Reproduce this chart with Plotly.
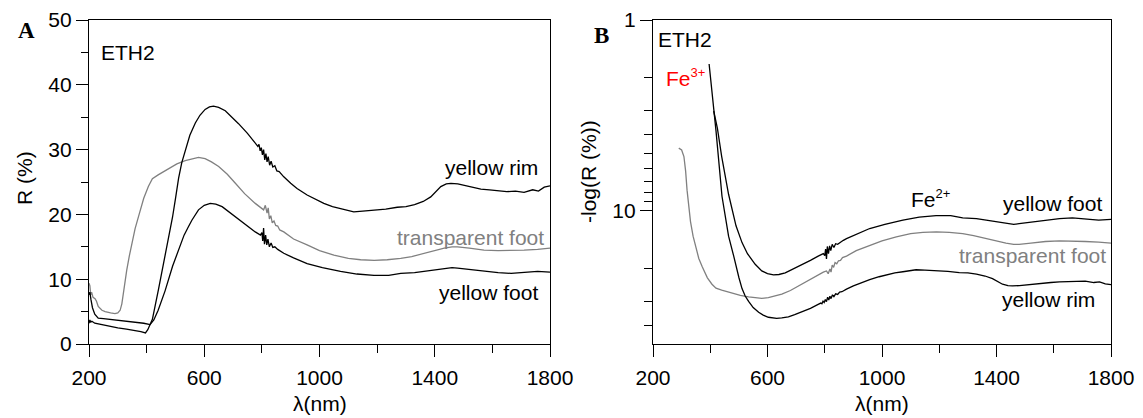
import math
import plotly.graph_objects as go

# Reflectance spectra (R, %) of the three ETH2 zones
rim_nm = [200, 203, 206, 210, 220, 240, 260, 280, 300, 330, 360, 380, 396, 404, 412, 420, 441, 464, 482,
          490, 500, 511, 522, 534, 550, 569, 585, 603, 618, 632, 650, 673, 695, 719, 750, 777, 786, 790,
          794, 798, 802, 806, 810, 814, 818, 822, 827, 832, 838, 845, 852, 860, 868, 876, 900, 922, 957,
          990, 1015, 1045, 1073, 1100, 1119, 1150, 1189, 1230, 1270, 1300, 1330, 1360, 1386, 1405, 1421,
          1440, 1456, 1480, 1502, 1530, 1560, 1590, 1620, 1650, 1680, 1710, 1740, 1760, 1780, 1800]
rim_R = [3.2, 3.7, 3.4, 3.5, 3.2, 3.0, 2.8, 2.7, 2.5, 2.3, 2.1, 1.9, 1.7, 2.2, 3.0, 3.8, 8.4, 13.6, 17.3,
         19.6, 22.4, 25.6, 28.0, 29.9, 32.2, 34.1, 35.3, 36.2, 36.6, 36.7, 36.5, 36.0, 35.1, 34.0, 32.5,
         31.0, 30.5, 30.8, 29.8, 30.3, 29.2, 30.0, 28.4, 29.4, 28.1, 28.9, 27.6, 28.2, 27.3, 27.5, 26.7,
         26.6, 26.1, 25.8, 24.8, 24.0, 23.0, 22.2, 21.7, 21.2, 20.9, 20.6, 20.4, 20.5, 20.6, 20.8, 21.1,
         21.2, 21.5, 22.0, 22.7, 23.5, 24.3, 24.7, 24.8, 24.7, 24.5, 24.2, 23.9, 23.8, 23.6, 23.5, 23.6,
         23.4, 23.8, 23.6, 24.2, 24.4]

foot_nm = [200, 203, 207, 212, 220, 232, 250, 270, 302, 330, 360, 390, 412, 425, 440, 464, 490, 511, 530,
           545, 557, 580, 600, 621, 640, 662, 685, 719, 750, 777, 795, 800, 803, 806, 809, 813, 817, 821,
           826, 832, 838, 845, 855, 865, 876, 910, 957, 1010, 1073, 1130, 1189, 1240, 1282, 1330, 1363,
           1400, 1433, 1460, 1479, 1520, 1571, 1620, 1665, 1710, 1757, 1800]
foot_R = [7.6, 8.0, 6.8, 5.6, 4.6, 4.0, 3.9, 3.8, 3.7, 3.6, 3.4, 3.2, 3.0, 3.7, 5.2, 8.2, 12.0, 14.7, 16.8,
          18.1, 19.1, 20.7, 21.4, 21.7, 21.6, 21.2, 20.4, 19.3, 18.2, 17.3, 16.8, 17.2, 15.9, 17.9, 15.4,
          16.8, 15.3, 16.2, 15.0, 15.6, 14.9, 15.0, 14.6, 14.3, 14.0, 13.3, 12.4, 11.8, 11.2, 10.8, 10.6,
          10.6, 10.9, 11.0, 11.2, 11.5, 11.7, 11.8, 11.7, 11.5, 11.2, 11.0, 10.9, 11.0, 11.2, 11.1]

transp_nm = [200, 203, 206, 209, 214, 221, 226, 232, 245, 256, 275, 290, 300, 308, 314, 319, 325, 331, 340,
             349, 360, 372, 390, 406, 420, 440, 476, 505, 534, 560, 580, 603, 625, 650, 680, 708, 740, 777,
             795, 806, 812, 818, 822, 826, 831, 836, 842, 848, 855, 862, 876, 910, 957, 1000, 1050, 1100,
             1143, 1190, 1235, 1282, 1320, 1363, 1400, 1433, 1460, 1479, 1520, 1571, 1620, 1665, 1710,
             1757, 1800]
transp_R = [9.4, 9.0, 7.6, 8.0, 7.2, 7.0, 6.6, 5.8, 5.2, 5.0, 4.8, 4.7, 4.8, 5.2, 6.2, 7.8, 9.6, 11.4, 13.6,
            15.5, 17.8, 19.7, 22.5, 24.3, 25.5, 26.1, 27.1, 27.8, 28.3, 28.6, 28.8, 28.6, 28.1, 27.4, 26.2,
            24.8, 23.2, 21.7, 21.0, 20.7, 21.4, 20.2, 21.0, 19.3, 19.8, 18.7, 19.0, 18.3, 18.2, 17.6, 17.3,
            16.2, 15.3, 14.4, 13.7, 13.2, 13.0, 12.9, 13.0, 13.2, 13.5, 14.0, 14.4, 14.8, 15.0, 15.0, 14.8,
            14.5, 14.4, 14.4, 14.5, 14.6, 14.8]

# first wavelength of each spectrum shown on the log panel
rim_start_b = 396
foot_start_b = 412
transp_start_b = 290

x_major = [200, 600, 1000, 1400, 1800]
x_minor = [400, 800, 1200, 1600]
ya_major = [0, 10, 20, 30, 40, 50]
ya_minor = [5, 15, 25, 35, 45]
yb_major = [1, 10]
yb_minor = [2, 3, 4, 5, 6, 7, 8, 9, 20, 30, 40]

BLACK = "#000000"
GREY = "#808080"
W, H = 1143, 418
FONT = "Liberation Sans, Arial, sans-serif"
FS = 21


def px(x):
    return x / W


def py(y):
    return 1 - y / H


def trim(nm, r, start):
    pairs = [(a, b) for a, b in zip(nm, r) if a >= start]
    return [p[0] for p in pairs], [p[1] for p in pairs]


fig = go.Figure()

series = [
    (transp_nm, transp_R, GREY, transp_start_b),
    (foot_nm, foot_R, BLACK, foot_start_b),
    (rim_nm, rim_R, BLACK, rim_start_b),
]
for nm, r, color, start in series:
    fig.add_trace(go.Scatter(x=nm, y=r, mode="lines", line=dict(color=color, width=1.3),
                             xaxis="x", yaxis="y", showlegend=False, hoverinfo="skip"))
    bx, by = trim(nm, r, start)
    fig.add_trace(go.Scatter(x=bx, y=by, mode="lines", line=dict(color=color, width=1.3),
                             xaxis="x2", yaxis="y2", showlegend=False, hoverinfo="skip"))

tickfont = dict(family=FONT, size=FS, color=BLACK)
common_x = dict(range=[200, 1800], tickmode="array", tickvals=x_major, ticks="outside", ticklen=12,
                tickwidth=1.3, tickcolor=BLACK, showline=True, linecolor=BLACK, linewidth=1.3,
                mirror=True, showgrid=False, zeroline=False, tickfont=tickfont, automargin=False,
                ticklabelstandoff=3,
                minor=dict(tickmode="array", tickvals=x_minor, ticks="outside", ticklen=8,
                           tickwidth=1.3, tickcolor=BLACK, showgrid=False))
common_y = dict(ticks="outside", ticklen=12, tickwidth=1.3, tickcolor=BLACK, showline=True,
                linecolor=BLACK, linewidth=1.3, mirror=True, showgrid=False, zeroline=False,
                tickfont=tickfont, automargin=False)

ydom = [py(344), py(20)]
fig.update_layout(
    width=W, height=H, margin=dict(l=0, r=0, t=0, b=0),
    paper_bgcolor="white", plot_bgcolor="white",
    xaxis=dict(domain=[px(89), px(550)], anchor="y", **common_x),
    yaxis=dict(domain=ydom, anchor="x", range=[0, 50], tickmode="array", tickvals=ya_major,
               minor=dict(tickmode="array", tickvals=ya_minor, ticks="outside", ticklen=7,
                          tickwidth=1.3, tickcolor=BLACK, showgrid=False),
               **common_y),
    xaxis2=dict(domain=[px(653), px(1111)], anchor="y2", **common_x),
    yaxis2=dict(domain=ydom, anchor="x2", type="log", range=[math.log10(50), 0], tickmode="array",
                tickvals=yb_major, ticktext=[str(v) for v in yb_major],
                minor=dict(tickmode="array", tickvals=yb_minor, ticks="outside", ticklen=8,
                           tickwidth=1.3, tickcolor=BLACK, showgrid=False),
                **common_y),
)

lab = dict(family=FONT, size=FS, color=BLACK)
grey_lab = dict(family=FONT, size=FS, color=GREY)
ann = []


def paper_text(text, x, y, font, angle=0):
    ann.append(dict(text=text, xref="paper", yref="paper", x=px(x), y=py(y), xanchor="center",
                    yanchor="middle", showarrow=False, textangle=angle, font=font))


def data_text(text, axis, x, y, anchor, font):
    ann.append(dict(text=text, xref="x" + axis, yref="y" + axis, x=x, y=y, xanchor=anchor,
                    yanchor="middle", showarrow=False, font=font))


# panel letters
letter_font = dict(family="Liberation Serif", size=23, color=BLACK)
paper_text("<b>A</b>", 26, 30, letter_font)
paper_text("<b>B</b>", 601, 35, letter_font)
# axis titles
paper_text("λ(nm)", 319.5, 403, lab)
paper_text("λ(nm)", 882, 403, lab)
paper_text("R (%)", 24, 178, lab, -90)
paper_text("-log(R (%))", 589, 172, lab, -90)

sup = "<sup><span style='font-size:13px'>{}</span></sup>"

# panel A labels
data_text("ETH2", "", 236, 45, "left", lab)
data_text("yellow rim", "", 1766, 27.3, "right", lab)
data_text("transparent foot", "", 1786, 16.5, "right", grey_lab)
data_text("yellow foot", "", 1766, 8.0, "right", lab)

# panel B labels (log axis positions in decades)
data_text("ETH2", "2", 212, math.log10(1.27), "left", lab)
data_text("Fe" + sup.format("3+"), "2", 240, math.log10(2.0), "left",
          dict(family=FONT, size=FS, color="#ff0000"))
data_text("Fe" + sup.format("2+"), "2", 1094, math.log10(8.65), "left", lab)
data_text("yellow foot", "2", 1777, math.log10(9.2), "right", lab)
data_text("transparent foot", "2", 1790, math.log10(17.2), "right", grey_lab)
data_text("yellow rim", "2", 1752, math.log10(29.1), "right", lab)

fig.update_layout(annotations=ann)
fig.write_html("out.html")
